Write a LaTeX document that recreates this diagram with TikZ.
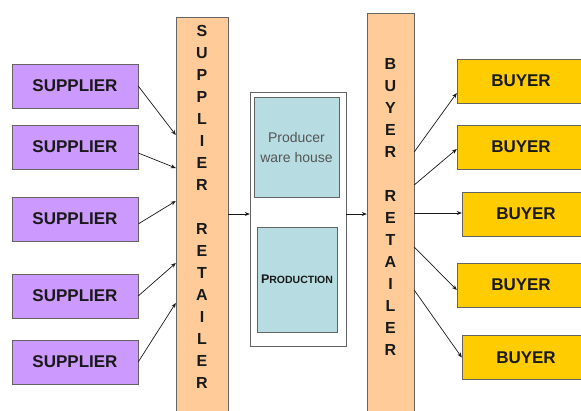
\documentclass[tikz,border=0pt]{standalone}
\usepackage{fontspec}
\setmainfont{Liberation Sans}
\usetikzlibrary{arrows.meta,positioning}
\definecolor{lilac}{RGB}{204,153,255}
\definecolor{gold}{RGB}{255,204,0}
\definecolor{peach}{RGB}{255,204,153}
\definecolor{aqua}{RGB}{183,221,226}
\definecolor{edge}{RGB}{100,100,100}
\definecolor{ink}{RGB}{25,25,25}
\definecolor{soft}{RGB}{85,85,85}

\begin{document}
\begin{tikzpicture}[x=1pt,y=-1pt,
  supp/.style={rectangle,draw=edge,fill=lilac,minimum width=126pt,minimum height=44pt,inner sep=0pt,text=ink,font=\fontsize{17}{20}\selectfont\bfseries},
  buy/.style={rectangle,draw=edge,fill=gold,minimum width=128pt,minimum height=44pt,inner sep=0pt,text=ink,font=\fontsize{17}{20}\selectfont\bfseries},
  bar/.style={rectangle,draw=edge,fill=peach,inner sep=0pt},
  barlbl/.style={align=center,inner sep=0pt,text=ink,font=\fontsize{16}{22}\selectfont\bfseries},
  store/.style={rectangle,draw=edge,fill=aqua,inner sep=0pt,align=center},
  arr/.style={-{Stealth[length=5pt,width=4pt]},line width=0.7pt,ink}
]
\useasboundingbox (0,0) rectangle (581,410);
\clip (0,0) rectangle (581,410);
% retailer bars
\node[bar,minimum width=52pt,minimum height=413pt] (sbar) at (202,223.5) {};
\node[barlbl] (slbl) at (202,207) {S\\U\\P\\P\\L\\I\\E\\R\\[22pt]R\\E\\T\\A\\I\\L\\E\\R};
\node[bar,minimum width=47pt,minimum height=417pt] (bbar) at (390.5,221.5) {};
\node[barlbl] (blbl) at (390.5,207) {B\\U\\Y\\E\\R\\[22pt]R\\E\\T\\A\\I\\L\\E\\R};
% producer
\node[rectangle,draw=edge,fill=white,minimum width=96pt,minimum height=254pt] (prod) at (298,219) {};
\node[store,minimum width=85pt,minimum height=100pt,text=soft,font=\fontsize{14}{20}\selectfont] (ware) at (296.5,147) {Producer\\ware house};
\node[store,minimum width=80pt,minimum height=105pt,text=ink,font=\bfseries] (make) at (297,279.5) {{\fontsize{12.5}{14}\selectfont P}{\fontsize{10.5}{14}\selectfont RODUCTION}};
% suppliers
\node[supp] (s1) at (75,86) {SUPPLIER};
\node[supp] (s2) at (75,147) {SUPPLIER};
\node[supp] (s3) at (75,219) {SUPPLIER};
\node[supp] (s4) at (75,296) {SUPPLIER};
\node[supp] (s5) at (75,362) {SUPPLIER};
% buyers
\node[buy] (b1) at (521,81) {BUYER};
\node[buy] (b2) at (521,147) {BUYER};
\node[buy] (b3) at (526,214) {BUYER};
\node[buy] (b4) at (521,285) {BUYER};
\node[buy] (b5) at (526,357.5) {BUYER};
% arrows
\draw[arr] (s1.east) -- (sbar.west |- 0,135);
\draw[arr] (s2.east |- 0,153) -- (sbar.west |- 0,168);
\draw[arr] (s3.east |- 0,224) -- (sbar.west |- 0,201);
\draw[arr] (s4.east) -- (sbar.west |- 0,263);
\draw[arr] (s5.east) -- (sbar.west |- 0,303);
\draw[arr] (sbar.east |- 0,214) -- (prod.west |- 0,214);
\draw[arr] (prod.east |- 0,214) -- (bbar.west |- 0,214);
\draw[arr] (bbar.east |- 0,152) -- (b1.west |- 0,93);
\draw[arr] (bbar.east |- 0,185) -- (b2.west |- 0,149);
\draw[arr] (bbar.east |- 0,213) -- (b3.west |- 0,213);
\draw[arr] (bbar.east |- 0,247) -- (b4.west |- 0,290);
\draw[arr] (bbar.east |- 0,290) -- (b5.west);
\end{tikzpicture}
\end{document}
